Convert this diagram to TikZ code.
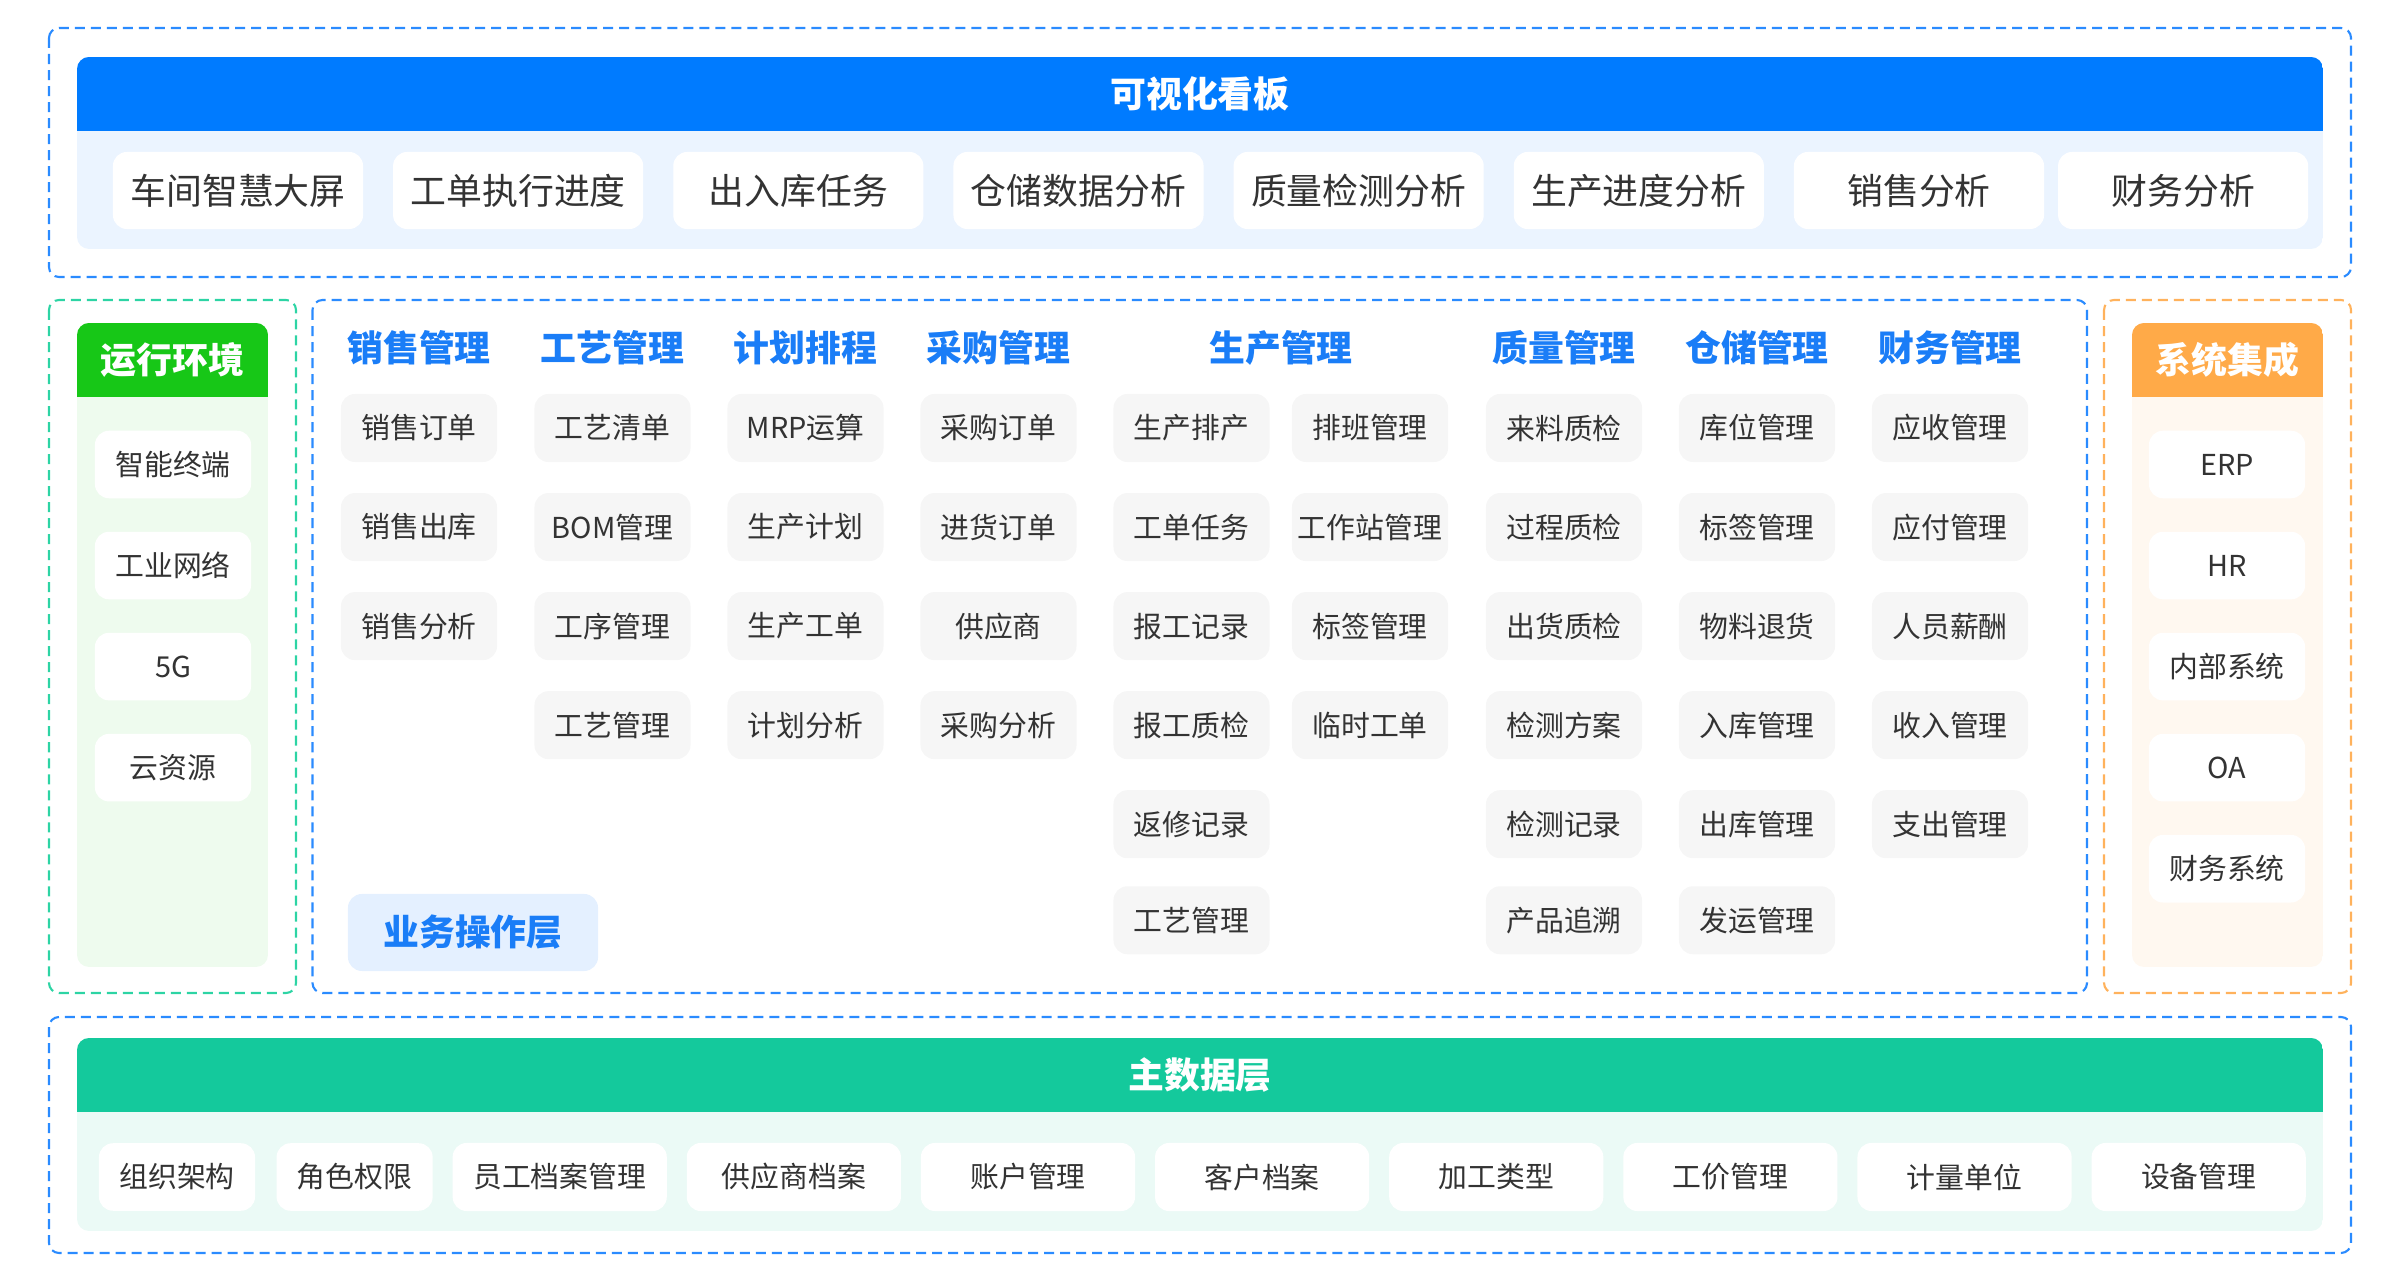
\documentclass[tikz,border=0pt]{standalone}
\usepackage{fontspec}
\setmainfont{Noto Sans CJK SC}
\usetikzlibrary{positioning}

\definecolor{dashblue}{HTML}{2A8BFF}
\definecolor{topblue}{HTML}{007BFF}
\definecolor{topbody}{HTML}{EBF4FF}
\definecolor{headblue}{HTML}{1A7DF7}
\definecolor{tilegray}{HTML}{F6F6F6}
\definecolor{textdark}{HTML}{333333}
\definecolor{dashgreen}{HTML}{2DD4A4}
\definecolor{rungreen}{HTML}{17C717}
\definecolor{greenbody}{HTML}{EEFBEE}
\definecolor{dashorange}{HTML}{FFB25C}
\definecolor{sysorange}{HTML}{FFAA48}
\definecolor{orangebody}{HTML}{FFF8F0}
\definecolor{basegreen}{HTML}{14C99C}
\definecolor{basebody}{HTML}{EBFAF6}
\definecolor{layerblue}{HTML}{E4F0FF}

\begin{document}
\begin{tikzpicture}[
  x=0.01cm, y=-0.01cm,
  frame/.style    = {dash pattern=on 1mm off 0.6mm, line width=0.6pt, rounded corners=0.1cm},
  tile/.style     = {fill=white, rounded corners=0.14cm, inner sep=0pt, outer sep=0pt, text=textdark,
                     font=\fontsize{8.2}{10}\selectfont},
  toptile/.style  = {tile, minimum width=2.5cm, minimum height=0.77cm, font=\fontsize{10.2}{12}\selectfont},
  modtile/.style  = {tile, fill=tilegray, minimum width=1.56cm, minimum height=0.68cm},
  sidetile/.style = {tile, minimum width=1.56cm, minimum height=0.675cm},
  basetile/.style = {tile, minimum width=2.14cm, minimum height=0.68cm},
  colhead/.style  = {text=headblue, font=\fontsize{10.2}{12}\selectfont\bfseries},
  bartitle/.style = {text=white, font=\fontsize{10.2}{12}\selectfont\bfseries},
  node distance=0.31cm and 0.3cm
]
  \useasboundingbox (0,0) rectangle (2400,1280);

  % Top layer: dashboard
  \draw[frame, draw=dashblue] (49,28) rectangle (2351,277);
  \begin{scope}
    \clip[rounded corners=0.12cm] (77,57) rectangle (2323,249);
    \fill[topbody] (77,57) rectangle (2323,249);
    \fill[topblue] (77,57) rectangle (2323,131);
  \end{scope}
  \node[bartitle] (boardtitle) at (1200,94) {可视化看板};

  \node[toptile] (screen) at (238,190.5) {车间智慧大屏};
  \node[toptile, right=of screen] (woprog) {工单执行进度};
  \node[toptile, right=of woprog] (stocktask) {出入库任务};
  \node[toptile, right=of stocktask] (storeana) {仓储数据分析};
  \node[toptile, right=of storeana] (qualana) {质量检测分析};
  \node[toptile, right=of qualana] (prodana) {生产进度分析};
  \node[toptile, right=of prodana] (salesana) {销售分析};
  \node[toptile, right=0.14cm of salesana] (finana) {财务分析};

  % Left column: runtime environment
  \draw[frame, draw=dashgreen] (49,300) rectangle (296,993);
  \begin{scope}
    \clip[rounded corners=0.12cm] (77,323) rectangle (268,967);
    \fill[greenbody] (77,323) rectangle (268,967);
    \fill[rungreen] (77,323) rectangle (268,397);
  \end{scope}
  \node[bartitle] (envtitle) at (172.5,360) {运行环境};

  \node[sidetile] (terminal) at (173,464.5) {智能终端};
  \node[sidetile, below=0.335cm of terminal] (network) {工业网络};
  \node[sidetile, below=0.335cm of network] (fiveg) {5G};
  \node[sidetile, below=0.335cm of fiveg] (cloud) {云资源};

  % Middle: business operation layer
  \draw[frame, draw=dashblue] (312.5,300) rectangle (2087,993);

  \node[colhead] (saleshead) at (419,348) {销售管理};
  \node[colhead] (crafthead) at (612.5,348) {工艺管理};
  \node[colhead] (planhead) at (805.5,348) {计划排程};
  \node[colhead] (buyhead) at (998.5,348) {采购管理};
  \node[colhead] (prodhead) at (1281,348) {生产管理};
  \node[colhead] (qualhead) at (1564,348) {质量管理};
  \node[colhead] (storehead) at (1757,348) {仓储管理};
  \node[colhead] (finhead) at (1950,348) {财务管理};

  % sales
  \node[modtile] (s1) at (419,428) {销售订单};
  \node[modtile, below=of s1] (s2) {销售出库};
  \node[modtile, below=of s2] (s3) {销售分析};

  % craft
  \node[modtile] (c1) at (612.5,428) {工艺清单};
  \node[modtile, below=of c1] (c2) {BOM管理};
  \node[modtile, below=of c2] (c3) {工序管理};
  \node[modtile, below=of c3] (c4) {工艺管理};

  % planning
  \node[modtile] (p1) at (805.5,428) {MRP运算};
  \node[modtile, below=of p1] (p2) {生产计划};
  \node[modtile, below=of p2] (p3) {生产工单};
  \node[modtile, below=of p3] (p4) {计划分析};

  % purchasing
  \node[modtile] (b1) at (998.5,428) {采购订单};
  \node[modtile, below=of b1] (b2) {进货订单};
  \node[modtile, below=of b2] (b3) {供应商};
  \node[modtile, below=of b3] (b4) {采购分析};

  % production, two columns
  \node[modtile] (m1) at (1191.5,428) {生产排产};
  \node[modtile, below=of m1] (m2) {工单任务};
  \node[modtile, below=of m2] (m3) {报工记录};
  \node[modtile, below=of m3] (m4) {报工质检};
  \node[modtile, below=of m4] (m5) {返修记录};
  \node[modtile, below=0.28cm of m5] (m6) {工艺管理};

  \node[modtile] (n1) at (1370,428) {排班管理};
  \node[modtile, below=of n1] (n2) {工作站管理};
  \node[modtile, below=of n2] (n3) {标签管理};
  \node[modtile, below=of n3] (n4) {临时工单};

  % quality
  \node[modtile] (q1) at (1564,428) {来料质检};
  \node[modtile, below=of q1] (q2) {过程质检};
  \node[modtile, below=of q2] (q3) {出货质检};
  \node[modtile, below=of q3] (q4) {检测方案};
  \node[modtile, below=of q4] (q5) {检测记录};
  \node[modtile, below=0.28cm of q5] (q6) {产品追溯};

  % storage
  \node[modtile] (w1) at (1757,428) {库位管理};
  \node[modtile, below=of w1] (w2) {标签管理};
  \node[modtile, below=of w2] (w3) {物料退货};
  \node[modtile, below=of w3] (w4) {入库管理};
  \node[modtile, below=of w4] (w5) {出库管理};
  \node[modtile, below=0.28cm of w5] (w6) {发运管理};

  % finance
  \node[modtile] (f1) at (1950,428) {应收管理};
  \node[modtile, below=of f1] (f2) {应付管理};
  \node[modtile, below=of f2] (f3) {人员薪酬};
  \node[modtile, below=of f3] (f4) {收入管理};
  \node[modtile, below=of f4] (f5) {支出管理};

  \node[tile, fill=layerblue, minimum width=2.5cm, minimum height=0.77cm,
        text=headblue, font=\fontsize{10.2}{12}\selectfont\bfseries] (layername) at (473,932.5) {业务操作层};

  % Right column: system integration
  \draw[frame, draw=dashorange] (2104,300) rectangle (2351,993);
  \begin{scope}
    \clip[rounded corners=0.12cm] (2132,323) rectangle (2323,967);
    \fill[orangebody] (2132,323) rectangle (2323,967);
    \fill[sysorange] (2132,323) rectangle (2323,397);
  \end{scope}
  \node[bartitle] (systitle) at (2227.5,360) {系统集成};

  \node[sidetile] (erp) at (2227,464.5) {ERP};
  \node[sidetile, below=0.335cm of erp] (hr) {HR};
  \node[sidetile, below=0.335cm of hr] (inner) {内部系统};
  \node[sidetile, below=0.335cm of inner] (oa) {OA};
  \node[sidetile, below=0.335cm of oa] (finsys) {财务系统};

  % Bottom layer: master data
  \draw[frame, draw=dashblue] (49,1017) rectangle (2351,1253);
  \begin{scope}
    \clip[rounded corners=0.12cm] (77,1038) rectangle (2323,1231);
    \fill[basebody] (77,1038) rectangle (2323,1231);
    \fill[basegreen] (77,1038) rectangle (2323,1112);
  \end{scope}
  \node[bartitle] (datatitle) at (1200,1075) {主数据层};

  \node[sidetile] (org) at (177,1177) {组织架构};
  \node[sidetile, right=0.215cm of org] (roles) {角色权限};
  \node[basetile, right=0.2cm of roles] (staff) {员工档案管理};
  \node[basetile, right=0.2cm of staff] (supplier) {供应商档案};
  \node[basetile, right=0.2cm of supplier] (account) {账户管理};
  \node[basetile, right=0.2cm of account] (customer) {客户档案};
  \node[basetile, right=0.2cm of customer] (process) {加工类型};
  \node[basetile, right=0.2cm of process] (wage) {工价管理};
  \node[basetile, right=0.2cm of wage] (unit) {计量单位};
  \node[basetile, right=0.2cm of unit] (device) {设备管理};

\end{tikzpicture}
\end{document}
